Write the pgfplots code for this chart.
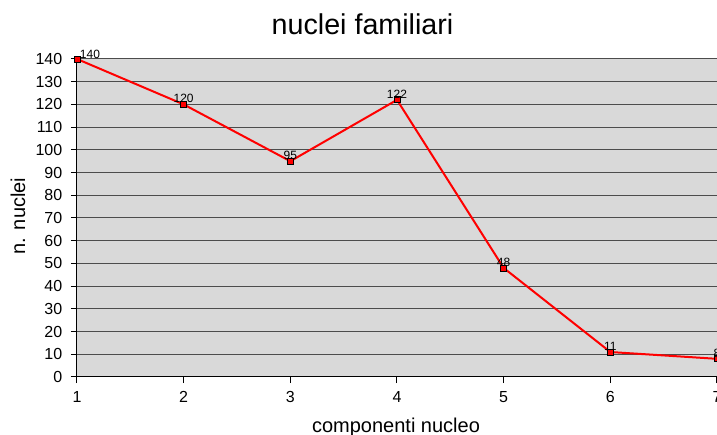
\documentclass[border=0pt]{standalone}
\usepackage{fontspec}
\setmainfont{Liberation Sans}
\usepackage{pgfplots}
\pgfplotsset{compat=1.18}
\definecolor{plotbg}{RGB}{217,217,217}
\begin{document}
\begin{tikzpicture}[x=1pt,y=1pt]
\useasboundingbox (0,0) rectangle (537.75,326.25);
\begin{axis}[
    at={(57.75pt,43.5pt)}, anchor=south west,
    scale only axis, width=480pt, height=238.5pt,
    xmin=1, xmax=7, ymin=0, ymax=140,
    xtick={1,2,3,4,5,6,7},
    ytick={0,10,...,140},
    axis lines*=left,
    axis line style={black, line width=0.75pt},
    tick align=outside, major tick length=4.5pt,
    tick style={black, line width=0.75pt},
    ymajorgrids, major grid style={black!70, line width=0.75pt},
    axis background/.style={fill=plotbg},
    ticklabel style={font=\fontsize{12}{14}\selectfont},
    yticklabel style={xshift=-3pt},
    xticklabel style={yshift=-3pt},
    /pgf/number format/assume math mode=true,
    clip=false,
]
\addplot[red, line width=1.5pt, mark=square*, mark size=2.25pt,
    mark options={fill=red, draw=black, line width=0.6pt}]
    coordinates {(1,140)(2,120)(3,95)(4,122)(5,48)(6,11)(7,8)};
\addplot[draw=none, mark=none, nodes near coords, point meta=y,
    nodes near coords style={font=\fontsize{9}{10}\selectfont, inner sep=0pt, anchor=south, yshift=1pt}]
    coordinates {(2,120)(3,95)(4,122)(5,48)(6,11)(7,8)};
\addplot[draw=none, mark=none, nodes near coords, point meta=y,
    nodes near coords style={font=\fontsize{9}{10}\selectfont, inner sep=0pt, anchor=south west, xshift=2pt, yshift=0pt}]
    coordinates {(1,140)};
\end{axis}
\node[anchor=base, font=\fontsize{21.5}{24}\selectfont] at (271.9,300) {nuclei familiari};
\node[anchor=base, font=\fontsize{15}{17}\selectfont] at (297,1.5) {componenti nucleo};
\node[rotate=90, font=\fontsize{15}{17}\selectfont] at (13.5,164.25) {n. nuclei};
\end{tikzpicture}
\end{document}
